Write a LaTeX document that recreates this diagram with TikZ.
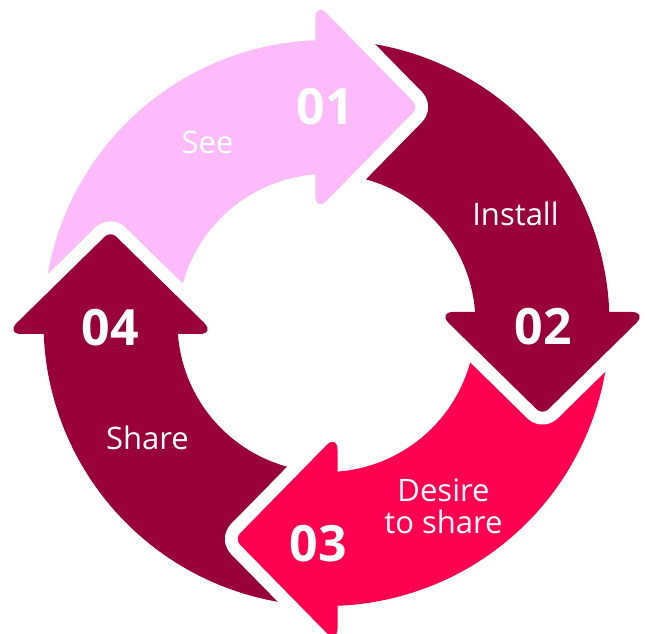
\documentclass[tikz,border=0pt]{standalone}
\usepackage{fontspec}
\setmainfont{Open Sans}

\definecolor{seepink}{HTML}{FDBBFB}
\definecolor{winered}{HTML}{99003A}
\definecolor{sharered}{HTML}{FF0050}

% ring and head sizes (in pt)
\newcommand{\outR}{283}
\newcommand{\inR}{149}
\newcommand{\midR}{216}
\newcommand{\hoff}{11}
\newcommand{\headw}{105}
\newcommand{\headl}{103}

\tikzset{
    stepnum/.style={text=white, anchor=base, font=\fontsize{50}{50}\selectfont\bfseries},
    steptext/.style={text=white, anchor=base, align=center, font=\fontsize{31}{32.3}\selectfont},
}

\begin{document}
\begin{tikzpicture}[x=1pt,y=1pt]

\useasboundingbox (-326.5,-311) rectangle (318.5,323);

% ring pieces, one per step (both ends hide under a head)
\foreach \rot/\col in {0/seepink, -90/winered, -180/sharered, -270/winered} {
    \begin{scope}[rotate=\rot]
        \fill[\col] ({180+asin((\hoff-2)/\outR)}:\outR)
            arc[start angle={180+asin((\hoff-2)/\outR)}, end angle={90+asin((\hoff-3)/\outR)}, radius=\outR]
            -- ({90+asin((\hoff-3)/\inR)}:\inR)
            arc[start angle={90+asin((\hoff-3)/\inR)}, end angle={180+asin((\hoff-2)/\inR)}, radius=\inR]
            -- cycle;
    \end{scope}
}

% heads, with a white gap cut into the next piece
\foreach \rot/\col in {0/seepink, -90/winered, -180/sharered, -270/winered} {
    \begin{scope}[rotate=\rot]
        \path[draw=white, line width=26pt, line join=round]
            (-\hoff,\inR-3) [rounded corners=16pt] -- (-\hoff,\midR-\headw)
            [rounded corners=8pt] -- (-\hoff+\headl,\midR)
            [rounded corners=16pt] -- (-\hoff,\midR+\headw) -- (-\hoff,\outR+3);
        \path[fill=\col]
            (-\hoff,\inR-3) [rounded corners=16pt] -- (-\hoff,\midR-\headw)
            [rounded corners=8pt] -- (-\hoff+\headl,\midR)
            [rounded corners=16pt] -- (-\hoff,\midR+\headw) -- (-\hoff,\outR+3);
    \end{scope}
}

\node[stepnum] (num1) at (-1.5,198) {01};
\node[stepnum] (num2) at (216.8,-22) {02};
\node[stepnum] (num3) at (-8.2,-238.7) {03};
\node[stepnum] (num4) at (-216.5,-23) {04};

\node[steptext] (see) at (-119,169.7) {See};
\node[steptext] (install) at (189,97) {Install};
\node[steptext, anchor=center] (desire) at (117,-183) {Desire\\to share};
\node[steptext] (share) at (-179,-126.3) {Share};

\end{tikzpicture}
\end{document}
